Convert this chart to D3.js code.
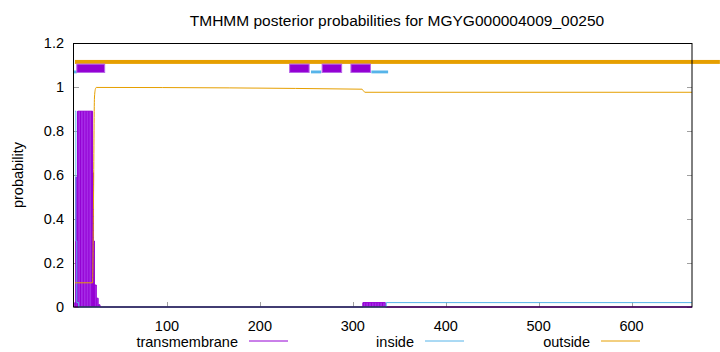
<!DOCTYPE html>
<html>
<head>
<meta charset="utf-8">
<script src="https://cdn.jsdelivr.net/npm/d3@7"></script>
<style>
  body { margin: 0; background: #fff; }
  svg { display: block; font-family: "Liberation Sans", Arial, sans-serif; }
</style>
</head>
<body>
<svg id="chart"></svg>
<script>
// posterior probabilities, step data: [residue, value] (value holds until next residue)
const tmSteps = [[1, 0.02], [2, 0.59], [4, 0.89], [20, 0.61], [21, 0.30], [22, 0.10], [24, 0.04], [26, 0.01], [28, 0], [311, 0.02], [335, 0], [665, 0]];
const insideSteps = [[1, 0.89], [2, 0.30], [3, 0.02], [5, 0], [336, 0.02], [665, 0.02]];
const outsideSteps = [[1, 0.11], [20, 0.11], [21, 0.5], [22, 0.95], [23, 0.99], [24, 0.998], [310, 0.99], [311, 0.985], [312, 0.98], [313, 0.976], [665, 0.976]];

// predicted topology shown in the band above the curves
const tmSegments = [[3, 33], [232, 253], [267, 288], [298, 319]];
const insideSegments = [[0, 3], [255, 266], [320, 338]];
const outsideSegments = [[1, 695]];

const xTicks = [100, 200, 300, 400, 500, 600];
const yTicks = [0, 0.2, 0.4, 0.6, 0.8, 1, 1.2];
const legendItems = ["transmembrane", "inside", "outside"];

const width = 720, height = 352;
const colors = { transmembrane: "#9400d3", inside: "#56b4e9", outside: "#e69f00" };

const svg = d3.select("#chart").attr("width", width).attr("height", height);

const x = d3.scaleLinear().domain([0, 665]).range([74, 692]);
const y = d3.scaleLinear().domain([0, 1.2]).range([307, 43]);

// title
svg.append("text")
  .attr("x", 397).attr("y", 26)
  .attr("text-anchor", "middle")
  .attr("font-size", 15.5)
  .text("TMHMM posterior probabilities for MGYG000004009_00250");

// y label
svg.append("text")
  .attr("transform", "translate(23,175) rotate(-90)")
  .attr("text-anchor", "middle")
  .attr("font-size", 14.5)
  .text("probability");

// ticks (inward, gray)
const ticks = svg.append("g").attr("stroke", "#a0a0a0").attr("stroke-width", 1);
ticks.selectAll(".yl").data(yTicks).join("line")
  .attr("x1", 74).attr("x2", 79)
  .attr("y1", d => Math.round(y(d)) + 0.5).attr("y2", d => Math.round(y(d)) + 0.5);
ticks.selectAll(".yr").data(yTicks).join("line")
  .attr("x1", 687).attr("x2", 692)
  .attr("y1", d => Math.round(y(d)) + 0.5).attr("y2", d => Math.round(y(d)) + 0.5);
ticks.selectAll(".xb").data(xTicks).join("line")
  .attr("x1", d => Math.round(x(d)) + 0.5).attr("x2", d => Math.round(x(d)) + 0.5)
  .attr("y1", 307).attr("y2", 302);

svg.append("g")
  .attr("font-size", 14.5)
  .attr("text-anchor", "end")
  .selectAll("text").data(yTicks).join("text")
  .attr("x", 64).attr("y", d => y(d) + 5)
  .text(d => d);

svg.append("g")
  .attr("font-size", 14.5)
  .attr("text-anchor", "middle")
  .selectAll("text").data(xTicks).join("text")
  .attr("x", d => x(d)).attr("y", 331)
  .text(d => d);

const plot = svg.append("g");

// transmembrane, filled steps
const area = d3.area()
  .curve(d3.curveStepAfter)
  .x(d => x(d[0])).y0(y(0)).y1(d => y(d[1]));
plot.append("path")
  .datum(tmSteps)
  .attr("fill", "#a52ae6")
  .attr("stroke", colors.transmembrane)
  .attr("stroke-width", 1)
  .attr("d", area);

// darker impulses inside the filled area
const impulses = [];
tmSteps.forEach((d, i) => {
  const next = tmSteps[i + 1];
  if (!next || d[1] <= 0) return;
  for (let p = d[0]; p < next[0]; p += 3) impulses.push([p, d[1]]);
});
plot.append("g")
  .attr("stroke", colors.transmembrane)
  .attr("stroke-width", 1)
  .selectAll("line").data(impulses).join("line")
  .attr("x1", d => x(d[0])).attr("x2", d => x(d[0]))
  .attr("y1", y(0)).attr("y2", d => y(d[1]));

const line = d3.line().curve(d3.curveStepAfter).x(d => x(d[0])).y(d => y(d[1]));
plot.append("path").datum(insideSteps)
  .attr("fill", "none").attr("stroke", colors.inside).attr("stroke-width", 1)
  .attr("d", line);
plot.append("path").datum(outsideSteps)
  .attr("fill", "none").attr("stroke", colors.outside).attr("stroke-width", 1)
  .attr("d", d3.line().curve(d3.curveMonotoneX).x(d => x(d[0])).y(d => y(d[1])));

// topology band
plot.selectAll(".out").data(outsideSegments).join("rect")
  .attr("x", d => x(d[0])).attr("width", d => x(d[1]) - x(d[0]))
  .attr("y", y(1.123)).attr("height", y(1.105) - y(1.123))
  .attr("fill", colors.outside);
plot.selectAll(".ins").data(insideSegments).join("rect")
  .attr("x", d => x(d[0])).attr("width", d => x(d[1]) - x(d[0]))
  .attr("y", y(1.075)).attr("height", y(1.062) - y(1.075))
  .attr("fill", colors.inside);
plot.selectAll(".tm").data(tmSegments).join("rect")
  .attr("x", d => x(d[0])).attr("width", d => x(d[1]) - x(d[0]))
  .attr("y", y(1.104)).attr("height", y(1.066) - y(1.104))
  .attr("fill", colors.transmembrane)
  .attr("stroke", "#b866e8").attr("stroke-width", 1);

// frame
svg.append("rect")
  .attr("x", 73.5).attr("y", 43.5)
  .attr("width", 692 - 73.5).attr("height", 307 - 43.5)
  .attr("fill", "none").attr("stroke", "#000").attr("stroke-width", 1);

// legend
const legendX = [238, 414, 590];
const lg = svg.append("g").attr("font-size", 14.5)
  .selectAll("g").data(legendItems).join("g")
  .attr("transform", (d, i) => `translate(${legendX[i]},341)`);
lg.append("text").attr("text-anchor", "end").attr("y", 6).text(d => d);
lg.append("line").attr("x1", 11).attr("x2", 50)
  .attr("stroke", d => colors[d]).attr("stroke-width", 1);
</script>
</body>
</html>
